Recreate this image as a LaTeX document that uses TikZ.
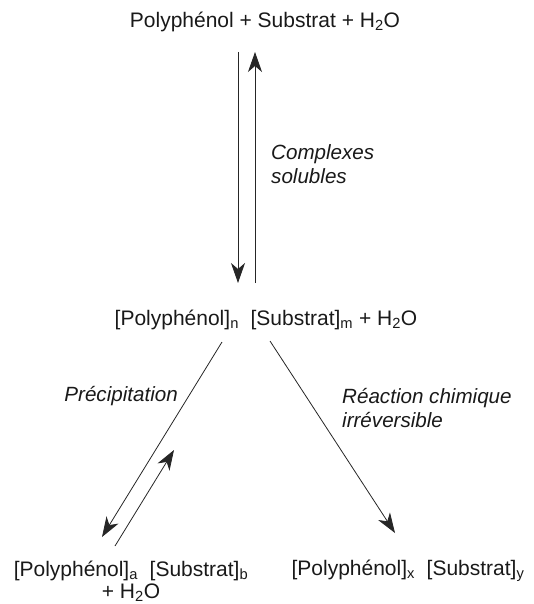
\documentclass[tikz,border=0pt]{standalone}
\usepackage{fontspec}
\setmainfont{Liberation Sans}
\usetikzlibrary{arrows.meta}
\tikzset{
  chem/.style={inner sep=0pt, font=\fontsize{21}{22}\selectfont, text=black!90},
  lab/.style={inner sep=0pt, font=\fontsize{20.6}{24}\selectfont\itshape, text=black!90},
  rxn/.style={line width=0.8pt, draw=black!85, -{Stealth[length=20pt,width=14pt,inset=6pt]}},
}
\newcommand{\sbs}[1]{\textsubscript{#1}}
\begin{document}
\begin{tikzpicture}[x=1pt,y=-1pt]
\useasboundingbox (0,0) rectangle (533,604);
% texts
\node[chem] (top) at (265,22) {Polyphénol + Substrat + H\sbs{2}O};
\node[chem] (mid) at (266,320) {[Polyphénol]\sbs{n}\ \ [Substrat]\sbs{m} + H\sbs{2}O};
\node[chem, align=center] (bl) at (131,581) {[Polyphénol]\sbs{a}\ \ [Substrat]\sbs{b}\\+ H\sbs{2}O};
\node[chem] (br) at (408,571) {[Polyphénol]\sbs{x}\ \ [Substrat]\sbs{y}};
\node[lab, anchor=west, align=left] (cs) at (271,164) {Complexes\\solubles};
\node[lab, anchor=east] (pr) at (178,396) {Précipitation};
\node[lab, anchor=west, align=left] (rc) at (342,408) {Réaction chimique\\irréversible};
% arrow end points
\coordinate (d1) at (238,52);
\coordinate (d2) at (238,283);
\coordinate (u1) at (255,283);
\coordinate (u2) at (255,52);
\coordinate (l1) at (222,342);
\coordinate (l2) at (102,537);
\coordinate (r1) at (115,546);
\coordinate (r2) at (174,450);
\coordinate (c1) at (270,341);
\coordinate (c2) at (395,533);
% arrows
\draw[rxn] (d1) -- (d2);
\draw[rxn] (u1) -- (u2);
\draw[rxn] (l1) -- (l2);
\draw[rxn] (r1) -- (r2);
\draw[rxn] (c1) -- (c2);
\end{tikzpicture}
\end{document}
